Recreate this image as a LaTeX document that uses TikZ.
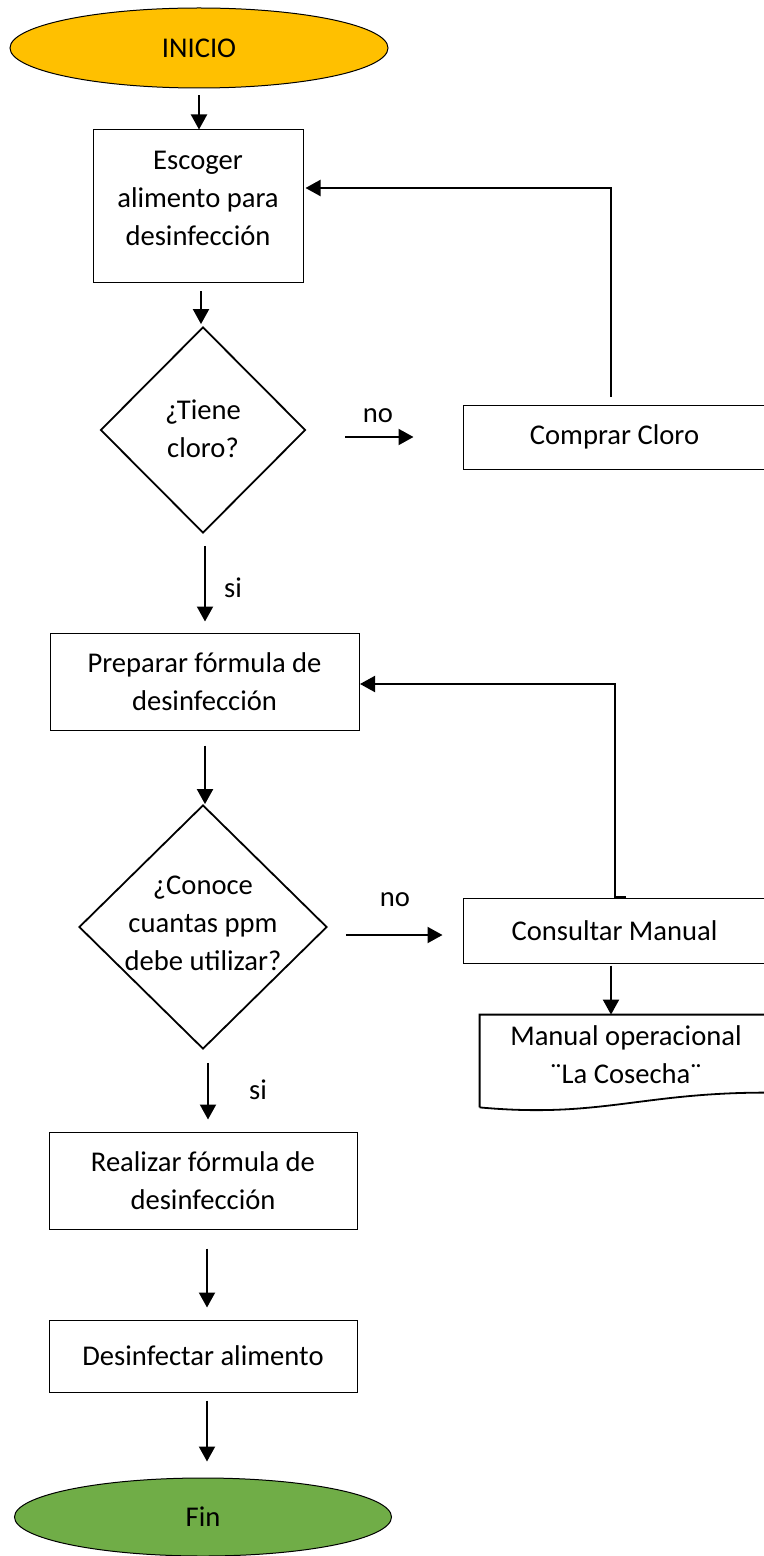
\documentclass[tikz,border=0pt]{standalone}
\usepackage{fontspec}
\setmainfont{Carlito}
\usetikzlibrary{shapes.geometric,arrows.meta,calc}
\definecolor{inicioc}{HTML}{FFC000}
\definecolor{finc}{HTML}{70AD47}
\begin{document}
\begin{tikzpicture}[x=0.5pt,y=-0.5pt,
  every node/.style={font=\fontsize{14.3}{19}\selectfont, inner sep=0pt, align=center},
  terminal/.style={ellipse, draw, line width=0.5pt},
  stepbox/.style={rectangle, draw, line width=0.5pt},
  decision/.style={diamond, draw, line width=0.9pt},
  arr/.style={line width=1pt, -{Triangle[length=7.5pt,width=8pt]}}
]
\useasboundingbox (0,0) rectangle (764,1556);

% terminals
\node[terminal, fill=inicioc, minimum width=189pt, minimum height=40pt] (inicio) at (199,48) {INICIO};
\node[terminal, fill=finc, minimum width=188.5pt, minimum height=39pt] (fin) at (203,1517) {Fin};

% process steps
\node[stepbox, minimum width=105pt, minimum height=76.5pt] (b1) at (198,206.5) {};
\node (b1text) at (198,198) {Escoger\\alimento para\\desinfección};
\node[stepbox, minimum width=151.5pt, minimum height=32pt] (comprar) at (614.5,437) {Comprar Cloro};
\node[stepbox, minimum width=154.5pt, minimum height=48.5pt] (b3) at (204.5,681.5) {Preparar fórmula de\\desinfección};
\node[stepbox, minimum width=151.5pt, minimum height=32.5pt] (consultar) at (614.5,930.5) {Consultar Manual};
\node[stepbox, minimum width=154pt, minimum height=48.5pt] (b5) at (203,1180.5) {Realizar fórmula de\\desinfección};
\node[stepbox, minimum width=154pt, minimum height=36pt] (b6) at (203,1356) {Desinfectar alimento};

% decisions
\node[decision, minimum width=102.5pt, minimum height=103pt] (d1) at (203,430) {};
\node (d1text) at (203,428.5) {¿Tiene\\cloro?};
\node[decision, minimum width=124pt, minimum height=122pt] (d2) at (203,927) {};
\node (d2text) at (203,923) {¿Conoce\\cuantas ppm\\debe utilizar?};

% document
\node[minimum width=143pt, minimum height=46pt] (doc) at (623,1061) {};
\draw[line width=0.9pt] (doc.south west) -- (doc.north west) -- (doc.north east)
  -- ($(doc.north east)+(0,78)$)
  .. controls ($(doc.north east)+(-126,78)$) and ($(doc.south west)+(120,11)$) .. (doc.south west);
\node (doctext) at (626,1055) {Manual operacional\\¨La Cosecha¨};

% main flow
\draw[arr, shorten <=3.5pt] (inicio.south) -- (inicio.south |- b1.north);
\draw[arr, shorten <=4pt, shorten >=1pt] ([xshift=1.5pt]b1.south) -- ([xshift=-1pt]d1.north);
\draw[arr, shorten <=6pt, shorten >=5.5pt] ([xshift=1pt]d1.south) -- ([xshift=0.25pt]b3.north);
\draw[arr, shorten <=7.5pt] ([xshift=0.25pt]b3.north |- b3.south) -- ([xshift=1pt]d2.north);
\draw[arr, shorten <=6.5pt, shorten >=6pt] ([xshift=2.5pt]d2.south) -- ([xshift=2.5pt]b5.north);
\draw[arr, shorten <=9.5pt, shorten >=6pt] ([xshift=2pt]b5.south) -- ([xshift=2pt]b6.north);
\draw[arr, shorten <=4pt, shorten >=8pt] ([xshift=2pt]b6.south) -- ([xshift=2pt]fin.north);

% branches
\draw[arr, shorten <=19.5pt, shorten >=24.5pt] (d1.east |- comprar.west) -- (comprar.west);
\node (no1) at (378,416) {no};
\node (si1) at (233,588) {si};
\draw[arr, shorten <=9pt, shorten >=10pt] ([yshift=-2.25pt]d2.east |- consultar.west) -- ([yshift=-2.25pt]consultar.west);
\node (no2) at (395,900) {no};
\node (si2) at (258,1090) {si};
\draw[arr, shorten <=1pt] ([xshift=-1.75pt]consultar.south) -- ([xshift=-1.75pt]consultar.south |- doc.north);

% feedback loops
\draw[arr] ([xshift=-1.75pt,yshift=4pt]comprar.north) |- ([xshift=1pt,yshift=9.25pt]b1.east);
\draw[arr] ([xshift=5.75pt,yshift=0.5pt]consultar.north) -- ++(-11,0) |- ([xshift=0.25pt,yshift=-1.25pt]b3.east);
\end{tikzpicture}
\end{document}
